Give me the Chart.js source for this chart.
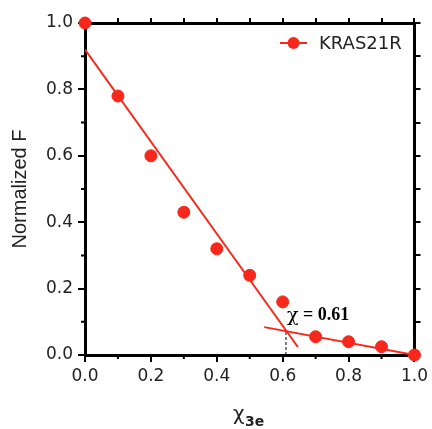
<!DOCTYPE html>
<html>
<head>
<meta charset="utf-8">
<script src="https://cdn.jsdelivr.net/npm/chart.js@4.4.1/dist/chart.umd.min.js"></script>
<style>
  html, body { margin: 0; background: #fff; }
</style>
</head>
<body>
<canvas id="fretChart" width="432" height="429"></canvas>
<script>
// measured points
const xFraction = [0, 0.1, 0.2, 0.3, 0.4, 0.5, 0.6, 0.7, 0.8, 0.9, 1.0];
const normF = [1.0, 0.78, 0.60, 0.43, 0.32, 0.24, 0.16, 0.055, 0.04, 0.025, 0.0];

// the two linear fits and where they cross
const fitSteepX = [0, 0.646];
const fitSteepY = [0.92, 0.024];
const fitFlatX = [0.544, 1.0];
const fitFlatY = [0.084, 0.0];
const crossX = [0.61, 0.61];
const crossY = [0, 0.073];
const crossLabel = ['χ', ' = 0.61'];

const seriesName = 'KRAS21R';
const minorTicks = [0.1, 0.3, 0.5, 0.7, 0.9];

const red = '#f7281b';
const ink = '#222';

function pairs(xs, ys) {
  return xs.map((x, i) => ({ x: x, y: ys[i] }));
}

/** extra drawing: minor ticks, legend, crossing label, x title */
const decorations = {
  id: 'decorations',
  afterDraw(chart) {
    const ctx = chart.ctx;
    const xs = chart.scales.x, ys = chart.scales.y;
    const area = chart.chartArea;
    ctx.save();
    // minor ticks
    ctx.strokeStyle = '#000';
    ctx.lineWidth = 2;
    ctx.beginPath();
    minorTicks.forEach(v => {
      const px = xs.getPixelForValue(v);
      ctx.moveTo(px, area.bottom);
      ctx.lineTo(px, area.bottom + 4);
      const py = ys.getPixelForValue(v);
      ctx.moveTo(area.left, py);
      ctx.lineTo(area.left - 4, py);
    });
    ctx.stroke();

    // legend
    ctx.strokeStyle = red;
    ctx.lineWidth = 2;
    ctx.beginPath();
    ctx.moveTo(280, 43);
    ctx.lineTo(307, 43);
    ctx.stroke();
    ctx.fillStyle = red;
    ctx.beginPath();
    ctx.arc(293.5, 43, 6, 0, Math.PI * 2);
    ctx.fill();
    ctx.fillStyle = ink;
    ctx.font = '18px "DejaVu Sans"';
    ctx.textBaseline = 'middle';
    ctx.textAlign = 'left';
    ctx.fillText(seriesName, 319, 44);

    // crossing label
    ctx.fillStyle = '#000';
    let lx = xs.getPixelForValue(crossX[0]) + 1;
    ctx.font = '19px "DejaVu Serif"';
    ctx.fillText(crossLabel[0], lx, 316);
    lx += ctx.measureText(crossLabel[0]).width;
    ctx.font = 'bold 18px "Liberation Serif"';
    ctx.fillText(crossLabel[1], lx, 315);

    // x axis title with subscript
    ctx.fillStyle = ink;
    ctx.textBaseline = 'alphabetic';
    ctx.font = '20px "DejaVu Sans"';
    ctx.fillText('χ', 233, 420);
    ctx.font = 'bold 14px "DejaVu Sans"';
    ctx.fillText('3e', 245, 426);
    ctx.restore();
  }
};

const ctx = document.getElementById('fretChart').getContext('2d');
new Chart(ctx, {
  type: 'scatter',
  data: {
    datasets: [
      {
        label: 'fit1',
        data: pairs(fitSteepX, fitSteepY),
        showLine: true,
        borderColor: red,
        borderWidth: 2,
        pointRadius: 0
      },
      {
        label: 'fit2',
        data: pairs(fitFlatX, fitFlatY),
        showLine: true,
        borderColor: red,
        borderWidth: 2,
        pointRadius: 0
      },
      {
        label: 'cross',
        data: pairs(crossX, crossY),
        showLine: true,
        borderColor: '#000',
        borderWidth: 1,
        borderDash: [3, 2],
        pointRadius: 0
      },
      {
        label: seriesName,
        data: pairs(xFraction, normF),
        backgroundColor: red,
        borderColor: red,
        pointRadius: 6,
        pointHoverRadius: 6,
        clip: false
      }
    ]
  },
  options: {
    responsive: false,
    animation: false,
    layout: { padding: 0 },
    plugins: {
      legend: { display: false },
      tooltip: { enabled: false }
    },
    scales: {
      x: {
        type: 'linear',
        position: 'bottom',
        min: 0,
        max: 1,
        afterFit(scale) { scale.height = 74; },
        ticks: {
          stepSize: 0.2,
          padding: 4,
          color: ink,
          font: { family: 'DejaVu Sans', size: 17 },
          callback: v => v.toFixed(1)
        },
        grid: { drawOnChartArea: false, tickLength: 7, color: '#000', lineWidth: 2 },
        border: { display: true, color: '#000', width: 3 }
      },
      y: {
        type: 'linear',
        position: 'left',
        min: 0,
        max: 1,
        afterFit(scale) { scale.width = 85; },
        title: {
          display: true,
          text: 'Normalized F',
          color: ink,
          font: { family: 'Liberation Sans', size: 20 },
          padding: { top: 8, bottom: 0 }
        },
        ticks: {
          stepSize: 0.2,
          padding: 5,
          color: ink,
          font: { family: 'DejaVu Sans', size: 17 },
          callback: v => v.toFixed(1)
        },
        grid: { drawOnChartArea: false, tickLength: 7, color: '#000', lineWidth: 2 },
        border: { display: true, color: '#000', width: 3 }
      },
      xTop: {
        type: 'linear',
        position: 'top',
        min: 0,
        max: 1,
        afterFit(scale) { scale.height = 23; },
        ticks: { display: false, stepSize: 0.1 },
        grid: { drawOnChartArea: false, tickLength: 5, color: '#000', lineWidth: 2 },
        border: { display: true, color: '#000', width: 3 }
      },
      yRight: {
        type: 'linear',
        position: 'right',
        min: 0,
        max: 1,
        afterFit(scale) { scale.width = 15; },
        ticks: { display: false, stepSize: 0.1 },
        grid: { drawOnChartArea: false, tickLength: 6, color: '#000', lineWidth: 2 },
        border: { display: true, color: '#000', width: 3 }
      }
    }
  },
  plugins: [decorations]
});
</script>
</body>
</html>
